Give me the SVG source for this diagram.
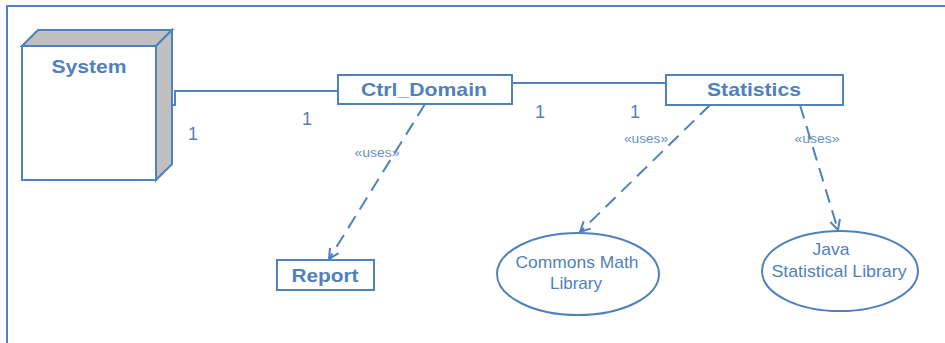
<svg xmlns="http://www.w3.org/2000/svg" width="945" height="343" viewBox="0 0 945 343">
  <style>
    .ln { fill: none; stroke: #4f81bd; stroke-width: 2; }
    .dash { fill: none; stroke: #4f81bd; stroke-width: 2; stroke-dasharray: 14 8; }
    .box { fill: #ffffff; stroke: #4f81bd; stroke-width: 2; }
    .title { font-family: "Liberation Sans", Arial, sans-serif; font-weight: bold; fill: #4f81bd; text-anchor: middle; }
    .lib { font-family: "Liberation Sans", Arial, sans-serif; font-size: 17px; fill: #4f81bd; text-anchor: middle; }
    .mult { font-family: "Liberation Sans", Arial, sans-serif; font-size: 18px; fill: #4f81bd; text-anchor: middle; }
    .st { font-family: "Liberation Sans", Arial, sans-serif; font-size: 12px; fill: #6a8fc8; text-anchor: middle; }
  </style>
  <defs>
    <marker id="open" viewBox="0 0 12 12" refX="11" refY="6" markerWidth="12" markerHeight="12" markerUnits="userSpaceOnUse" orient="auto">
      <path d="M1,1 L11,6 L1,11" fill="none" stroke="#4f81bd" stroke-width="2"/>
    </marker>
  </defs>

  <rect width="945" height="343" fill="#ffffff"/>
  <!-- frame -->
  <path d="M7,343 V6 H945" fill="none" stroke="#4f81bd" stroke-width="2"/>

  <g id="connectors">
    <path class="ln" d="M163,105 H175 V91 H338"/>
    <path class="ln" d="M512,83 H666"/>
    <path class="dash" d="M425,104 L329,259" marker-end="url(#open)"/>
    <path class="dash" d="M710,105 L580,232" marker-end="url(#open)"/>
    <path class="dash" d="M800,105 L838,230" marker-end="url(#open)"/>
    <text class="mult" x="193" y="140">1</text>
    <text class="mult" x="307" y="125">1</text>
    <text class="mult" x="540" y="118">1</text>
    <text class="mult" x="635" y="118">1</text>
    <text class="st" x="377" y="157" textLength="45" lengthAdjust="spacingAndGlyphs">«uses»</text>
    <text class="st" x="646" y="143" textLength="44" lengthAdjust="spacingAndGlyphs">«uses»</text>
    <text class="st" x="817" y="143" textLength="45" lengthAdjust="spacingAndGlyphs">«uses»</text>
  </g>

  <g id="system">
    <path d="M22,46 L38,30 H172 L156,46 Z" fill="#c0c0c0" stroke="#4f81bd" stroke-width="2"/>
    <path d="M156,46 L172,30 V164 L156,180 Z" fill="#c0c0c0" stroke="#4f81bd" stroke-width="2"/>
    <rect class="box" x="22" y="46" width="134" height="134"/>
    <text class="title" x="89" y="73" font-size="19" textLength="75" lengthAdjust="spacingAndGlyphs">System</text>
  </g>

  <g id="ctrl-domain">
    <rect class="box" x="338" y="75" width="174" height="29"/>
    <text class="title" x="424" y="96" font-size="18.5" textLength="126" lengthAdjust="spacingAndGlyphs">Ctrl_Domain</text>
  </g>

  <g id="statistics">
    <rect class="box" x="666" y="75" width="177" height="30"/>
    <text class="title" x="754" y="96" font-size="18.5" textLength="94" lengthAdjust="spacingAndGlyphs">Statistics</text>
  </g>

  <g id="report">
    <rect class="box" x="277" y="260" width="97" height="30"/>
    <text class="title" x="325" y="282" font-size="18.5" textLength="67" lengthAdjust="spacingAndGlyphs">Report</text>
  </g>

  <g id="commons-math">
    <ellipse class="box" cx="578" cy="274" rx="81" ry="41"/>
    <text class="lib" x="577" y="268" textLength="123" lengthAdjust="spacingAndGlyphs">Commons Math</text>
    <text class="lib" x="576" y="289" textLength="52" lengthAdjust="spacingAndGlyphs">Library</text>
  </g>

  <g id="java-stat">
    <ellipse class="box" cx="840" cy="271" rx="78" ry="40"/>
    <text class="lib" x="831" y="255" textLength="37" lengthAdjust="spacingAndGlyphs">Java</text>
    <text class="lib" x="839" y="277" textLength="135" lengthAdjust="spacingAndGlyphs">Statistical Library</text>
  </g>
</svg>
